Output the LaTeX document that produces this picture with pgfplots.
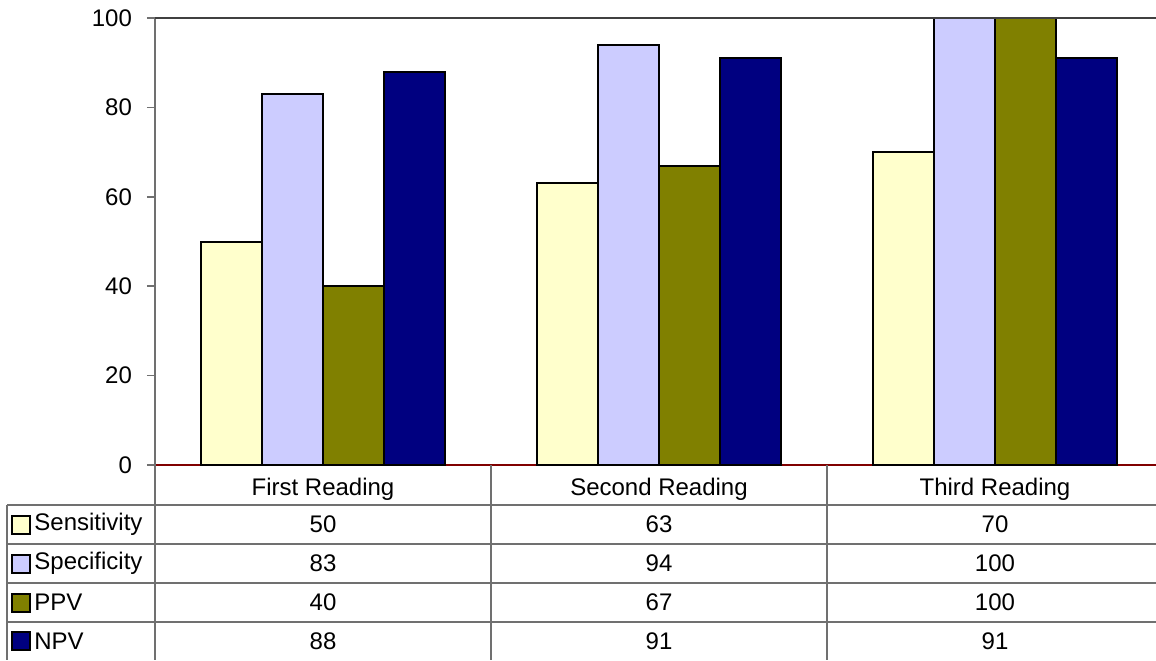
\documentclass[border=0pt]{standalone}
\usepackage{pgfplots}
\pgfplotsset{compat=1.18}
\usepackage{fontspec}
\setmainfont{Liberation Sans}
\definecolor{sens}{HTML}{FFFFCC}
\definecolor{spec}{HTML}{CCCCFF}
\definecolor{ppv}{HTML}{808000}
\definecolor{npv}{HTML}{000080}
\definecolor{axred}{HTML}{800000}
\definecolor{tblgray}{HTML}{707070}
\newcommand{\fs}{\fontsize{12}{14.4}\selectfont}
\begin{document}
\begin{tikzpicture}[x=0.5pt,y=0.5pt]
\useasboundingbox (0,0) rectangle (1156,660);
\begin{axis}[
  at={(77.5pt,97.5pt)}, anchor=south west,
  scale only axis, width=500.5pt, height=223.5pt,
  xmin=-0.5, xmax=2.4792, ymin=0, ymax=100,
  ybar=0pt, bar width=30.5pt, clip=false,
  axis x line*=bottom, axis y line*=left,
  x axis line style={axred, line width=1pt, -},
  y axis line style={tblgray, line width=0.75pt, -},
  ytick={0,20,40,60,80,100},
  xtick={0,1,2},
  xticklabels={First Reading, Second Reading, Third Reading},
  xtick style={draw=none},
  ytick style={tblgray, line width=0.75pt},
  tick align=outside, major tick length=4pt,
  /pgf/number format/assume math mode=true,
  yticklabel shift=4pt,
  yticklabel style={font=\fs, text=black},
  xticklabel style={font=\fs, text=black, anchor=center, yshift=-8pt},
]
\addplot[fill=sens, draw=black, line width=1pt] coordinates {(0,50) (1,63) (2,70)};
\addplot[fill=spec, draw=black, line width=1pt] coordinates {(0,83) (1,94) (2,100)};
\addplot[fill=ppv, draw=black, line width=1pt] coordinates {(0,40) (1,67) (2,100)};
\addplot[fill=npv, draw=black, line width=1pt] coordinates {(0,88) (1,91) (2,91)};
\draw[black!75, line width=0.75pt] (rel axis cs:0,1) -- (rel axis cs:1,1);
\end{axis}
% data table grid
\draw[tblgray, line width=0.75pt]
  (7,155) -- (1156,155)
  (7,116) -- (1156,116)
  (7,77) -- (1156,77)
  (7,38) -- (1156,38)
  (7,155) -- (7,0)
  (155,195) -- (155,0)
  (491,195) -- (491,0)
  (827,195) -- (827,0);
% legend keys
\filldraw[fill=sens, draw=black, line width=1pt] (12,126.5) rectangle (30,144.5);
\filldraw[fill=spec, draw=black, line width=1pt] (12,87.5) rectangle (30,105.5);
\filldraw[fill=ppv, draw=black, line width=1pt] (12,48.5) rectangle (30,66.5);
\filldraw[fill=npv, draw=black, line width=1pt] (12,10) rectangle (30,28);
\node[anchor=west, inner sep=0pt, font=\fs] at (34,135.5) {Sensitivity};
\node[anchor=west, inner sep=0pt, font=\fs] at (34,96.5) {Specificity};
\node[anchor=west, inner sep=0pt, font=\fs] at (34,57.5) {PPV};
\node[anchor=west, inner sep=0pt, font=\fs] at (34,19) {NPV};
% values
\foreach \r/\a/\b/\c in {135.5/50/63/70, 96.5/83/94/100, 57.5/40/67/100, 19/88/91/91}{
  \node[font=\fs, inner sep=0pt] at (323,\r) {\a};
  \node[font=\fs, inner sep=0pt] at (659,\r) {\b};
  \node[font=\fs, inner sep=0pt] at (995,\r) {\c};
}
\end{tikzpicture}
\end{document}
